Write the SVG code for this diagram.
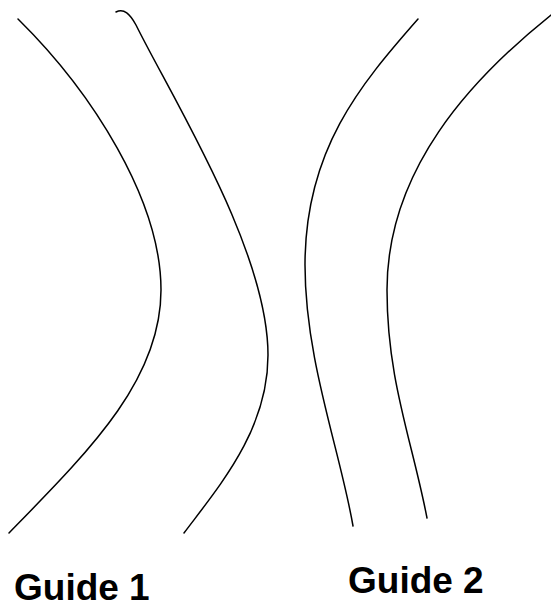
<svg xmlns="http://www.w3.org/2000/svg" width="551" height="610" viewBox="0 0 551 610">
<style>
.c{fill:none;stroke:#000;stroke-width:1.5;stroke-linecap:round}
.t{font-family:"Liberation Sans",Arial,sans-serif;font-weight:bold;font-size:37px;fill:#000}
</style>
<rect width="551" height="610" fill="#fff"/>
<g id="connectors">
<path class="c" d="M18,19 C92,92 161,200 161,290 C161,380 90,450 9,533"/>
<path class="c" d="M116,12 C124,8 130,14 136,25 C172,98 268,250 268,355 C268,430 220,485 184,533"/>
<path class="c" d="M418,19 C360,85 305,150 305,265 C305,360 340,450 353,526"/>
<path class="c" d="M551,15 C470,80 387,170 387,290 C387,380 412,440 427,518"/>
</g>
<g id="guide1"><text class="t" x="14" y="600">Guide 1</text></g>
<g id="guide2"><text class="t" x="348" y="593">Guide 2</text></g>
</svg>
